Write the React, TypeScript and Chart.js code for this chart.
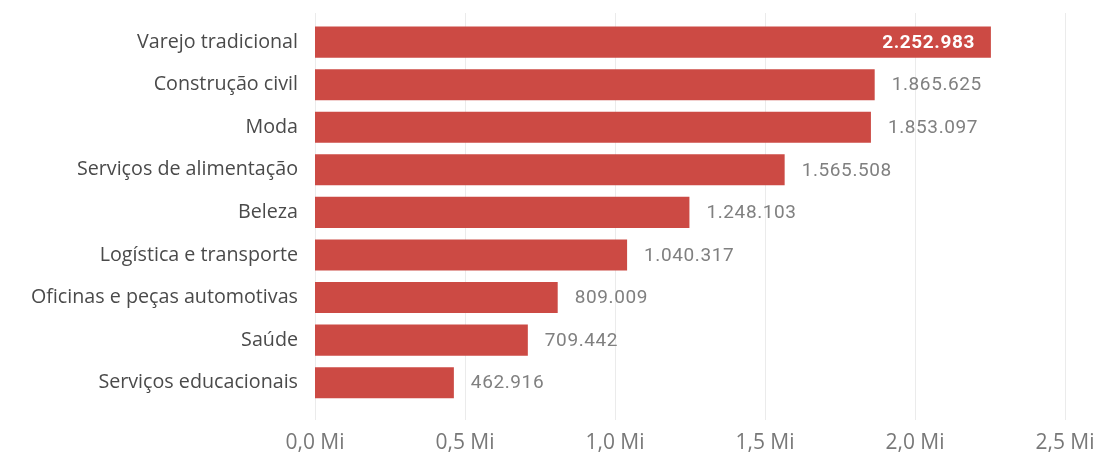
import React, { useEffect, useRef } from "react";
import { Chart, registerables } from "chart.js";

Chart.register(...registerables);

const categories = [
  "Varejo tradicional",
  "Construção civil",
  "Moda",
  "Serviços de alimentação",
  "Beleza",
  "Logística e transporte",
  "Oficinas e peças automotivas",
  "Saúde",
  "Serviços educacionais",
];

const values = [2252983, 1865625, 1853097, 1565508, 1248103, 1040317, 809009, 709442, 462916];

const xTicks = [0, 500000, 1000000, 1500000, 2000000, 2500000];

const BAR_COLOR = "#CC4A44";
const CAT_FONT = "'Open Sans', 'Noto Sans', sans-serif";
const NUM_FONT = "Roboto, 'DejaVu Sans', sans-serif";

function fmtBR(n: number): string {
  return String(Math.round(n)).replace(/\B(?=(\d{3})+(?!\d))/g, ".");
}

function fmtMi(v: number): string {
  return (v / 1e6).toFixed(1).replace(".", ",") + " Mi";
}

const gridPlugin = {
  id: "extGrid",
  beforeDatasetsDraw(chart: any) {
    const { ctx, scales } = chart;
    const x = scales.x;
    ctx.save();
    ctx.strokeStyle = "#EBEBEB";
    ctx.lineWidth = 1;
    for (const t of xTicks) {
      const px = Math.round(x.getPixelForValue(t)) + 0.5;
      ctx.beginPath();
      ctx.moveTo(px, 13);
      ctx.lineTo(px, 420);
      ctx.stroke();
    }
    ctx.restore();
  },
};

const labelPlugin = {
  id: "valueLabels",
  afterDatasetsDraw(chart: any) {
    const { ctx } = chart;
    const meta = chart.getDatasetMeta(0);
    const data = chart.data.datasets[0].data as number[];
    const maxV = Math.max(...data);
    ctx.save();
    ctx.textBaseline = "middle";
    (ctx as any).letterSpacing = "0.6px";
    meta.data.forEach((bar: any, i: number) => {
      const v = data[i];
      const txt = fmtBR(v);
      if (v === maxV) {
        ctx.font = `bold 19px ${NUM_FONT}`;
        ctx.fillStyle = "#FFFFFF";
        ctx.textAlign = "right";
        ctx.fillText(txt, bar.x - 16, bar.y + 1);
      } else {
        ctx.font = `19px ${NUM_FONT}`;
        ctx.fillStyle = "#808080";
        ctx.textAlign = "left";
        ctx.fillText(txt, bar.x + 17, bar.y + 1);
      }
    });
    ctx.restore();
  },
};

export default function App() {
  const ref = useRef<HTMLCanvasElement | null>(null);

  useEffect(() => {
    document.body.style.margin = "0";
    const canvas = ref.current;
    if (!canvas) return;
    const chart = new Chart(canvas, {
      type: "bar",
      data: {
        labels: categories,
        datasets: [
          {
            data: values,
            backgroundColor: BAR_COLOR,
            borderWidth: 0,
            barPercentage: 0.73,
            categoryPercentage: 1,
          },
        ],
      },
      options: {
        indexAxis: "y",
        animation: false,
        responsive: false,
        maintainAspectRatio: false,
        layout: { padding: { top: 14, right: 55, bottom: 0, left: 0 } },
        plugins: {
          legend: { display: false },
          tooltip: { enabled: false },
        },
        scales: {
          x: {
            min: 0,
            max: 2500000,
            afterBuildTicks: (scale: any) => {
              scale.ticks = xTicks.map((v) => ({ value: v }));
            },
            afterFit: (scale: any) => {
              scale.height = 49;
            },
            grid: { display: false },
            border: { display: false },
            ticks: {
              padding: 18,
              color: "#787878",
              font: { family: CAT_FONT, size: 21 },
              maxRotation: 0,
              callback: (v: any) => fmtMi(Number(v)),
            },
          },
          y: {
            afterFit: (scale: any) => {
              scale.width = 315;
            },
            grid: { display: false },
            border: { display: false },
            ticks: {
              padding: 9,
              color: "#4A4A4A",
              font: { family: CAT_FONT, size: 19.7 },
            },
          },
        },
      },
      plugins: [gridPlugin, labelPlugin],
    });
    return () => chart.destroy();
  }, []);

  return (
    <div style={{ width: 1120, height: 453, background: "#fff" }}>
      <canvas ref={ref} width={1120} height={453} style={{ display: "block" }} />
    </div>
  );
}
